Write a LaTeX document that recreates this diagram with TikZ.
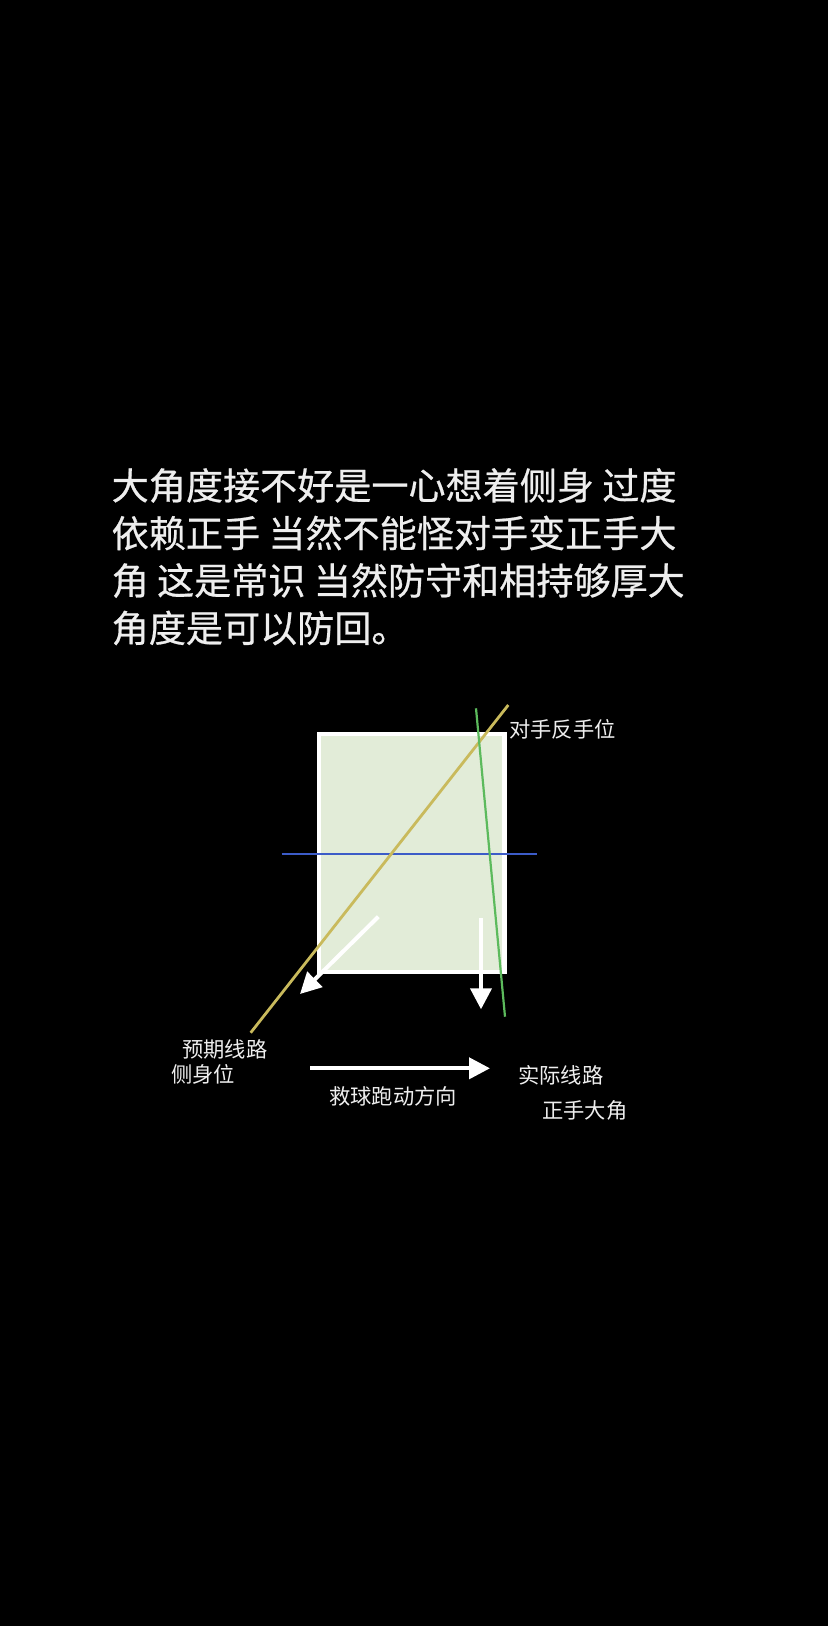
\documentclass[tikz,border=0pt]{standalone}
\usepackage{fontspec}
\setmainfont{Noto Sans CJK SC}
\newfontfamily\parafont{Noto Sans CJK SC}[FakeBold=0.6]
\usepackage{xcolor}
\usetikzlibrary{arrows.meta}

\definecolor{textwhite}{RGB}{238,238,238}
\definecolor{courtgreen}{RGB}{226,236,216}
\definecolor{lineyellow}{RGB}{201,186,92}
\definecolor{linegreen}{RGB}{92,186,92}
\definecolor{lineblue}{RGB}{60,92,200}

\begin{document}
\begin{tikzpicture}[x=1pt,y=-1pt,
    para/.style={text=textwhite,font=\parafont\fontsize{37.1}{44}\selectfont,inner sep=0pt,anchor=west},
    notetext/.style={text=textwhite,font=\fontsize{21.3}{24}\selectfont,inner sep=0pt,anchor=west},
    runarrow/.style={white,line width=4pt,-{Triangle[length=21pt,width=21pt]}}]
        \fill[black] (0,0) rectangle (828,1626);
        \useasboundingbox (0,0) rectangle (828,1626);
        % the text above
        \foreach \txt [count=\i] in {大角度接不好是一心想着侧身 过度,依赖正手 当然不能怪对手变正手大,角 这是常识 当然防守和相持够厚大,角度是可以防回。}
            \node[para] (line\i) at (111.5,{485.5+47.5*(\i-1)}) {\txt};
        % the court
        \draw[white,line width=4.5pt,fill=courtgreen] (318.9,733.9) rectangle (504.5,971.8);
        \coordinate (bl) at (281.7,853.7);
        \coordinate (br) at (536.7,853.7);
        \draw[lineblue,line width=2pt] (bl) -- (br);
        \coordinate (yt) at (508.3,705);
        \coordinate (yb) at (250.7,1032.7);
        \draw[lineyellow,line width=2.8pt] (yt) -- (yb);
        \coordinate (gt) at (476,708.3);
        \coordinate (gb) at (505,1016.7);
        \draw[linegreen,line width=2.2pt] (gt) -- (gb);
        % arrows
        \coordinate (a1) at (378.3,916.7);
        \coordinate (a2) at (300,994);
        \draw[runarrow] (a1) -- (a2);
        \coordinate (b1) at (481,918);
        \coordinate (b2) at (481,1009.3);
        \draw[runarrow] (b1) -- (b2);
        \coordinate (c1) at (310,1068.3);
        \coordinate (c2) at (490,1068.3);
        \draw[runarrow] (c1) -- (c2);
        % labels
        \node[notetext] (opp) at (509,729.7) {对手反手位};
        \node[notetext] (plan) at (182,1049.5) {预期线路};
        \node[notetext] (side) at (171,1074) {侧身位};
        \node[notetext] (run) at (329,1096.7) {救球跑动方向};
        \node[notetext] (real) at (518,1075) {实际线路};
        \node[notetext] (fore) at (542,1110) {正手大角};
    \end{tikzpicture}
\end{document}
